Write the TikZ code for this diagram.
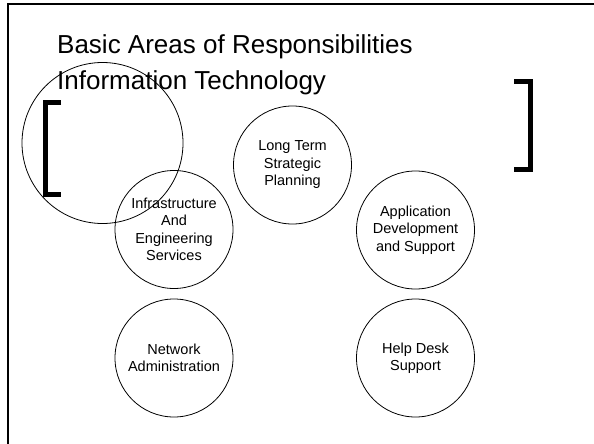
\documentclass[tikz,border=0pt]{standalone}
\usepackage{fontspec}
\setmainfont{Liberation Sans}
\begin{document}
\begin{tikzpicture}[x=1pt,y=-1pt,
  area/.style={draw,circle,minimum size=118pt,inner sep=0pt,line width=0.8pt,
    align=center,font=\fontsize{14.5}{17.5}\selectfont},
  heading/.style={anchor=base west,inner sep=0pt,font=\fontsize{26}{30}\selectfont},
  bracketline/.style={line width=5pt,line join=miter,line cap=butt}]
\useasboundingbox (0,0) rectangle (594,444);
% frame: left and top edges
\draw[line width=2.5pt] (8,446) -- (8,4) -- (596,4);
% title
\node[heading] (t1) at (57,53) {Basic Areas of Responsibilities};
\node[heading] (t2) at (57,89) {Information Technology};
% large empty circle and brackets
\node[draw,circle,minimum size=161pt,inner sep=0pt,line width=0.8pt] (big) at (102.5,143) {};
\draw[bracketline] (61,102.5) -- (45.5,102.5) -- (45.5,194.5) -- (61,194.5);
\draw[bracketline] (514,81.8) -- (530.8,81.8) -- (530.8,169.8) -- (514,169.8);
% areas
\node[area] (ltsp) at (292.5,165) {Long Term\\Strategic\\Planning};
\node[area] (infra) at (174,229.5) {Infrastructure\\And\\Engineering\\Services};
\node[area] (app) at (415.5,230) {Application\\Development\\and Support};
\node[area] (net) at (174,358) {Network\\Administration};
\node[area] (help) at (415.5,358) {Help Desk\\Support};
\end{tikzpicture}
\end{document}
